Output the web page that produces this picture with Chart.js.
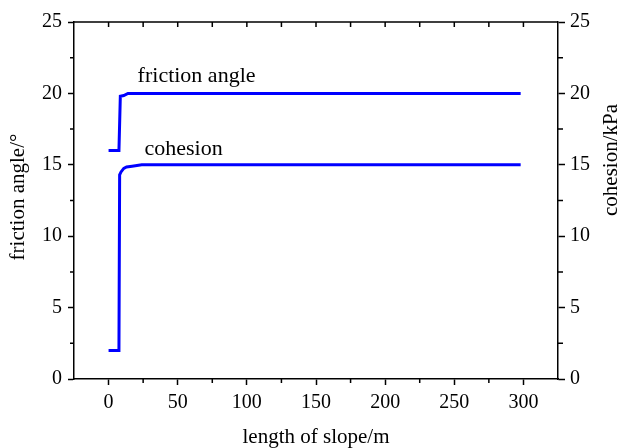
<!DOCTYPE html>
<html>
<head>
<meta charset="utf-8">
<script src="https://cdn.jsdelivr.net/npm/chart.js@4.4.1/dist/chart.umd.min.js"></script>
<style>
  html, body { margin: 0; padding: 0; background: #fff; }
  #wrap { width: 622px; height: 448px; }
</style>
</head>
<body>
<div id="wrap"><canvas id="slopeChart" width="622" height="448"></canvas></div>
<script>
// slope length samples (m) and parameters along the slope
const frictionX = [0, 7.5, 8.5, 11, 14, 298];
const frictionAngle = [16, 16, 19.8, 19.85, 20, 20];
const cohesionX = [0, 7.5, 8, 9, 11, 13, 17, 24, 298];
const cohesion = [2, 2, 14.3, 14.5, 14.75, 14.85, 14.9, 15, 15];

const xTicks = [0, 50, 100, 150, 200, 250, 300];
const yTicks = [0, 5, 10, 15, 20, 25];

const FONT = '"Liberation Serif", "Times New Roman", serif';
const LINE_BLUE = 'rgb(0, 0, 255)';

function toPoints(xs, ys) {
  return xs.map((x, i) => ({ x: x, y: ys[i] }));
}

// frame, minor ticks, inward top ticks, axis titles and curve labels
const decorations = {
  id: 'decorations',
  afterDraw(chart) {
    const ctx = chart.ctx;
    const area = chart.chartArea;
    const xs = chart.scales.x;
    const ys = chart.scales.y;
    ctx.save();
    ctx.strokeStyle = '#000';
    ctx.lineWidth = 1.5;

    // top border with ticks pointing inward
    ctx.beginPath();
    ctx.moveTo(area.left, area.top);
    ctx.lineTo(area.right, area.top);
    for (let v = 0; v <= 300; v += 25) {
      const px = xs.getPixelForValue(v);
      ctx.moveTo(px, area.top);
      ctx.lineTo(px, area.top + 5);
    }
    // minor ticks on bottom, left and right
    for (let v = 25; v < 325; v += 50) {
      const px = xs.getPixelForValue(v);
      ctx.moveTo(px, area.bottom);
      ctx.lineTo(px, area.bottom + 4);
    }
    for (let v = 2.5; v < 25; v += 5) {
      const py = ys.getPixelForValue(v);
      ctx.moveTo(area.left, py);
      ctx.lineTo(area.left - 4, py);
      ctx.moveTo(area.right, py);
      ctx.lineTo(area.right + 5, py);
    }
    ctx.stroke();

    // axis titles
    ctx.fillStyle = '#000';
    ctx.font = '21px ' + FONT;
    ctx.textAlign = 'center';
    ctx.textBaseline = 'alphabetic';
    ctx.fillText('length of slope/m', (area.left + area.right) / 2, 443);

    ctx.save();
    ctx.translate(24, 197);
    ctx.rotate(-Math.PI / 2);
    ctx.fillText('friction angle/\u00B0', 0, 0);
    ctx.restore();

    ctx.save();
    ctx.translate(617, 160);
    ctx.rotate(-Math.PI / 2);
    ctx.fillText('cohesion/kPa', 0, 0);
    ctx.restore();

    // curve labels
    ctx.font = '22px ' + FONT;
    ctx.textAlign = 'left';
    ctx.fillText('friction angle', xs.getPixelForValue(21), ys.getPixelForValue(20.8));
    ctx.fillText('cohesion', xs.getPixelForValue(26), ys.getPixelForValue(15.7));
    ctx.restore();
  }
};

const axisTicks = { color: '#000', font: { family: FONT, size: 20 } };

new Chart(document.getElementById('slopeChart'), {
  type: 'line',
  data: {
    datasets: [
      {
        label: 'friction angle',
        data: toPoints(frictionX, frictionAngle),
        yAxisID: 'y',
        borderColor: LINE_BLUE,
        borderWidth: 3,
        pointRadius: 0,
        tension: 0,
        fill: false
      },
      {
        label: 'cohesion',
        data: toPoints(cohesionX, cohesion),
        yAxisID: 'y1',
        borderColor: LINE_BLUE,
        borderWidth: 3,
        pointRadius: 0,
        tension: 0,
        fill: false
      }
    ]
  },
  options: {
    responsive: false,
    animation: false,
    layout: { padding: { top: 22, left: 0, right: 0, bottom: 0 } },
    plugins: {
      legend: { display: false },
      tooltip: { enabled: false }
    },
    scales: {
      x: {
        type: 'linear',
        min: -25,
        max: 325,
        afterBuildTicks: s => { s.ticks = xTicks.map(v => ({ value: v })); },
        afterFit: s => { s.height = 69; },
        ticks: Object.assign({ padding: 6, maxRotation: 0 }, axisTicks),
        grid: { drawOnChartArea: false, tickLength: 6, tickColor: '#000', tickWidth: 1.5 },
        border: { display: true, color: '#000', width: 1.5 }
      },
      y: {
        position: 'left',
        min: 0,
        max: 25,
        afterBuildTicks: s => { s.ticks = yTicks.map(v => ({ value: v })); },
        afterFit: s => { s.width = 74; },
        ticks: Object.assign({ padding: 6 }, axisTicks),
        grid: { drawOnChartArea: false, tickLength: 6, tickColor: '#000', tickWidth: 1.5 },
        border: { display: true, color: '#000', width: 1.5 }
      },
      y1: {
        position: 'right',
        min: 0,
        max: 25,
        afterBuildTicks: s => { s.ticks = yTicks.map(v => ({ value: v })); },
        afterFit: s => { s.width = 64; },
        ticks: Object.assign({ padding: 5 }, axisTicks),
        grid: { drawOnChartArea: false, tickLength: 7, tickColor: '#000', tickWidth: 1.5 },
        border: { display: true, color: '#000', width: 1.5 }
      }
    }
  },
  plugins: [decorations]
});
</script>
</body>
</html>
